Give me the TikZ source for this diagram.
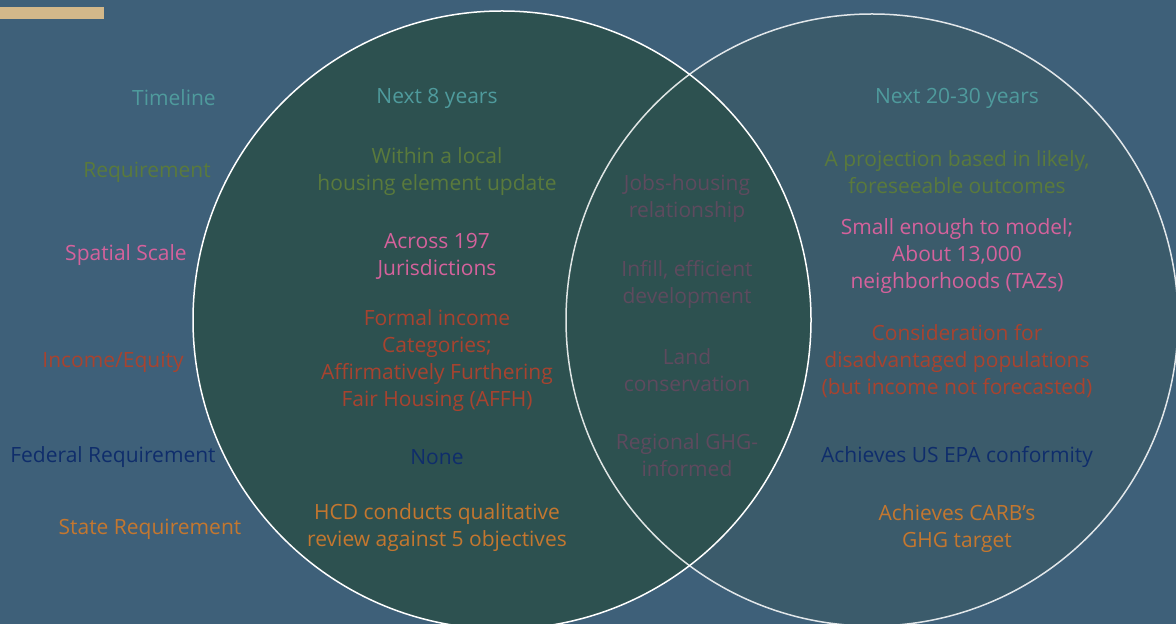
\documentclass[tikz,border=0pt]{standalone}
\usepackage{fontspec}
\setmainfont{Open Sans}
\definecolor{bg}{HTML}{3E6079}
\definecolor{lfill}{HTML}{2D5150}
\definecolor{rfill}{HTML}{3B5B6B}
\definecolor{gold}{HTML}{D2B88A}
\definecolor{cteal}{HTML}{4F9B9D}
\definecolor{colive}{HTML}{5A7A3C}
\definecolor{cpink}{HTML}{D5629C}
\definecolor{crust}{HTML}{A8432F}
\definecolor{cnavy}{HTML}{0F2D6B}
\definecolor{corange}{HTML}{C4772F}
\definecolor{cmauve}{HTML}{5E4A5E}
\begin{document}
\begin{tikzpicture}[x=0.5pt,y={(0pt,-0.5pt)},
  txt/.style={inner sep=0pt,align=center,font=\fontsize{10.5}{13.5}\selectfont},
  ring/.style={draw=white,line width=0.75pt}]
\fill[bg] (0,0) rectangle (1176,624);
\useasboundingbox (0,0) rectangle (1176,624);
\fill[gold] (0,7) rectangle (104,19);
% circles
\coordinate (lc) at (502,320);
\coordinate (rc) at (872,320);
\fill[rfill] (rc) circle[radius=153pt];
\fill[lfill] (lc) circle[radius=154.5pt];
\draw[ring,draw opacity=0.85] (rc) circle[radius=153pt];
\draw[ring] (lc) circle[radius=154.5pt];
% left labels
\node[txt,text=cteal] (lTime) at (174,98) {Timeline};
\node[txt,text=colive] (lReq) at (147,172) {Requirement};
\node[txt,text=cpink] (lSpat) at (126,255) {Spatial Scale};
\node[txt,text=crust] (lInc) at (113,362) {Income/Equity};
\node[txt,text=cnavy] (lFed) at (113,457) {Federal Requirement};
\node[txt,text=corange] (lState) at (150,529) {State Requirement};
% left circle column
\node[txt,text=cteal] (aTime) at (437,98) {Next 8 years};
\node[txt,text=colive] (aReq) at (437,172) {Within a local\\housing element update};
\node[txt,text=cpink] (aSpat) at (437,256) {Across 197\\Jurisdictions};
\node[txt,text=crust] (aInc) at (437,361) {Formal income\\Categories;\\Affirmatively Furthering\\Fair Housing (AFFH)};
\node[txt,text=cnavy] (aFed) at (437,457) {None};
\node[txt,text=corange] (aState) at (437,528) {HCD conducts qualitative\\review against 5 objectives};
% middle
\node[txt,text=cmauve] (m1) at (687,199) {Jobs-housing\\relationship};
\node[txt,text=cmauve] (m2) at (687,284) {Infill, efficient\\development};
\node[txt,text=cmauve] (m3) at (687,370) {Land\\conservation};
\node[txt,text=cmauve] (m4) at (687,455) {Regional GHG-\\informed};
% right column
\node[txt,text=cteal] (bTime) at (957,98) {Next 20-30 years};
\node[txt,text=colive] (bReq) at (957,172) {A projection based in likely,\\foreseeable outcomes};
\node[txt,text=cpink] (bSpat) at (957,256) {Small enough to model;\\About 13,000\\neighborhoods (TAZs)};
\node[txt,text=crust] (bInc) at (957,361) {Consideration for\\disadvantaged populations\\(but income not forecasted)};
\node[txt,text=cnavy] (bFed) at (957,457) {Achieves US EPA conformity};
\node[txt,text=corange] (bState) at (957,529) {Achieves CARB’s\\GHG target};
\end{tikzpicture}
\end{document}
